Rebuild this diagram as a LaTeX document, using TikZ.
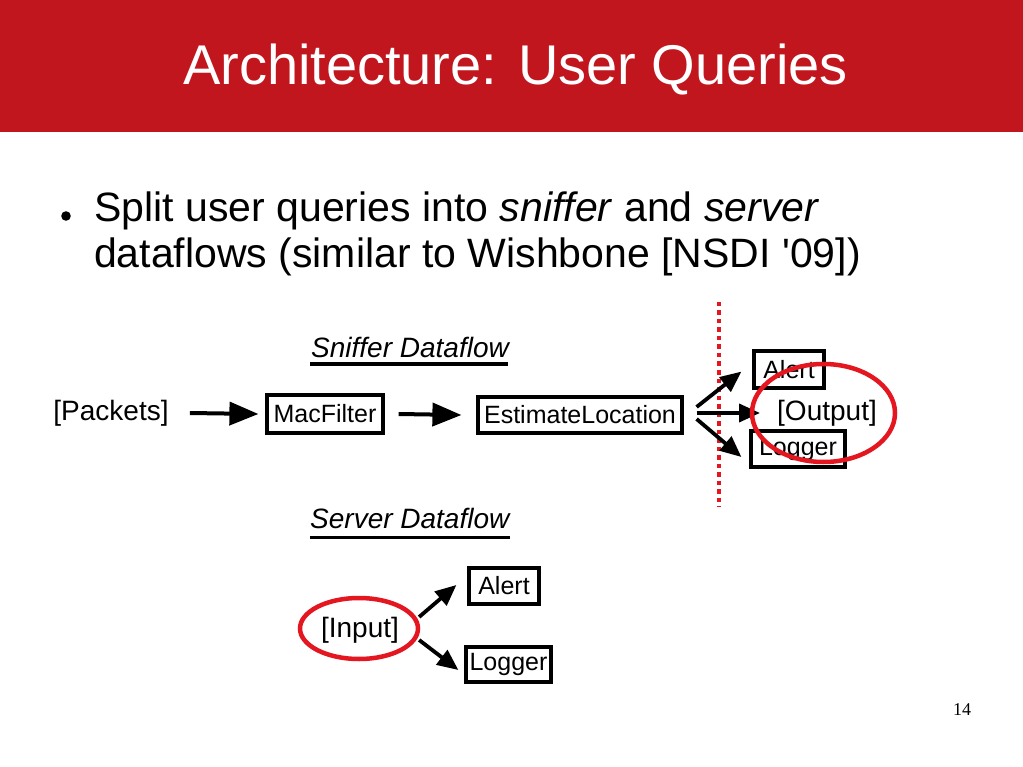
\documentclass[tikz,border=0pt]{standalone}
\usepackage{fontspec}
\newfontfamily\arialfont{Liberation Sans}
\newfontfamily\timesfont{Liberation Serif}
\usetikzlibrary{arrows.meta}
\definecolor{banner}{RGB}{193,22,30}
\definecolor{ringred}{RGB}{228,22,32}
\begin{document}
\begin{tikzpicture}[x=1pt,y=-1pt,
  txt/.style={inner sep=0pt,font=\arialfont\fontsize{28}{32}\selectfont},
  box/.style={draw,line width=3.2pt,inner sep=0pt,font=\arialfont\fontsize{25}{28}\selectfont},
  flowarrow/.style={line width=4pt,-{Triangle[length=29pt,width=23pt]}},
  brancharrow/.style={line width=3.8pt,-{Triangle[length=21pt,width=18pt]}},
  ring/.style={draw=ringred,line width=4.5pt},
  heading/.style={inner sep=0pt,anchor=base west,font=\arialfont\itshape\fontsize{28}{32}\selectfont},
  underline/.style={line width=3pt}]
\useasboundingbox (0,0) rectangle (1023,767);
\fill[white] (0,0) rectangle (1023,767);
% banner
\fill[banner] (0,0) rectangle (1023,132);
\node[inner sep=0pt,anchor=base,text=white,font=\arialfont\fontsize{56}{64}\selectfont] (title) at (515.5,85) {Architecture: User Queries};
% bullet
\fill[black] (66,216) circle[radius=4.8pt];
\node[inner sep=0pt,anchor=base west,font=\arialfont\fontsize{41}{48}\selectfont] (line1) at (94,222) {Split user queries into \textit{sniffer} and \textit{server}};
\node[inner sep=0pt,anchor=base west,font=\arialfont\fontsize{41}{48}\selectfont] (line2) at (94,268) {dataflows (similar to Wishbone [NSDI '09])};
% sniffer dataflow
\node[heading] (sniffhead) at (311,358) {Sniffer Dataflow};
\draw[underline] (310,364) -- (508,364);
\node[txt] (packets) at (111,413) {[Packets]};
\node[box,minimum width=116pt,minimum height=38pt] (macf) at (325,414) {MacFilter};
\node[box,minimum width=204pt,minimum height=36pt] (est) at (580,415) {EstimateLocation};
\draw[flowarrow] ([xshift=21]packets.east) -- ([xshift=-7]macf.west);
\draw[flowarrow] ([xshift=14]macf.east) -- ([xshift=-15]est.west);
% split line
\draw[ringred,line width=4.5pt,dash pattern=on 4.5pt off 4pt] (719,302) -- (719,507);
\node[box,minimum width=70pt,minimum height=37pt] (alert1) at (789,369.5) {Alert};
\node[box,minimum width=94pt,minimum height=36pt] (logger1) at (798,449) {Logger};
\node[txt] (output) at (827,413) {[Output]};
\draw[brancharrow] ([shift={(13,-8)}]est.east) -- ([shift={(-11,-18)}]alert1.south west);
\draw[brancharrow] ([shift={(13,-2)}]est.east) -- ([xshift=-17]output.west);
\draw[brancharrow] ([shift={(13,4)}]est.east) -- ([shift={(-8,8)}]logger1.west);
\draw[ring] ([xshift=-3.5]output.center) ellipse[x radius=71.5pt,y radius=49pt];
% server dataflow
\node[heading] (servhead) at (310,528) {Server Dataflow};
\draw[underline] (310,537) -- (510,537);
\node[txt] (input) at (360,630) {[Input]};
\node[box,minimum width=70pt,minimum height=36pt] (alert2) at (504,586) {Alert};
\node[box,minimum width=85pt,minimum height=35pt] (logger2) at (508.5,664.5) {Logger};
\draw[brancharrow] ([shift={(20,-13)}]input.east) -- ([shift={(-11,-1)}]alert2.west);
\draw[brancharrow] ([shift={(20,10)}]input.east) -- ([shift={(-6,5.5)}]logger2.west);
\draw[ring] ([shift={(-1,-1.5)}]input.center) ellipse[x radius=59pt,y radius=30.5pt];
% page number
\node[inner sep=0pt,anchor=base,font=\timesfont\fontsize{18}{20}\selectfont] (pagenum) at (962,715) {14};
\end{tikzpicture}
\end{document}
